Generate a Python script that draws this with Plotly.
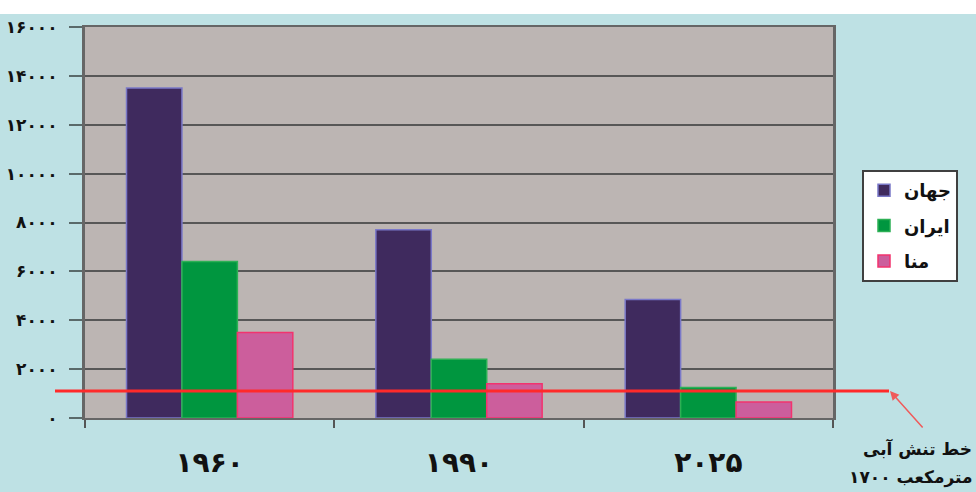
import plotly.graph_objects as go

categories = ["1960", "1990", "2025"]
cat_labels = ["۱۹۶۰", "۱۹۹۰", "۲۰۲۵"]
series_names = ["جهان", "ایران", "منا"]
world = [13500, 7700, 4850]
iran = [6400, 2400, 1250]
mena = [3500, 1400, 650]
y_ticks = [0, 2000, 4000, 6000, 8000, 10000, 12000, 14000, 16000]
y_tick_labels = ["۰", "۲۰۰۰", "۴۰۰۰", "۶۰۰۰", "۸۰۰۰", "۱۰۰۰۰", "۱۲۰۰۰", "۱۴۰۰۰", "۱۶۰۰۰"]
stress_level = 1100
stress_text_1 = "خط تنش آبی"
stress_text_2 = "۱۷۰۰ مترمکعب"

fills = ["#3F2A5E", "#00963F", "#CC5E9C"]
outlines = ["#7A78C8", "#2DB055", "#F2336E"]

FONT = "DejaVu Sans"

fig = go.Figure()
for name, vals, fc, lc in zip(series_names, [world, iran, mena], fills, outlines):
    fig.add_trace(go.Bar(
        x=categories, y=vals, name=name, legendgroup=name,
        marker=dict(color=fc, line=dict(color=lc, width=1.5)),
    ))

W, H = 976, 492
L, R, T, B = 85, 143, 27, 74
pw, ph = W - L - R, H - T - B

def px_x(p):
    return (p - L) / pw

def px_y(p):
    return (H - B - p) / ph

fig.update_layout(
    width=W, height=H,
    margin=dict(l=L, r=R, t=T, b=B, pad=0, autoexpand=False),
    paper_bgcolor="#BEE1E4",
    plot_bgcolor="#BCB5B3",
    barmode="group",
    bargap=0.333,
    bargroupgap=0,
    font=dict(family=FONT, color="#111111"),
    showlegend=True,
    legend=dict(
        x=px_x(862), y=px_y(170), xanchor="left", yanchor="top",
        bgcolor="#FFFFFF", bordercolor="#404040", borderwidth=2,
        font=dict(family=FONT, size=18, weight="bold", color="#111111"),
        traceorder="grouped", tracegroupgap=9,
        itemwidth=30,
    ),
    xaxis=dict(
        tickmode="array", tickvals=categories, ticktext=cat_labels,
        tickson="boundaries", ticks="outside", ticklen=8, tickwidth=1.5,
        tickcolor="#555555",
        showline=True, linecolor="#666666", linewidth=2, mirror=True,
        showgrid=False, automargin=False,
        tickfont=dict(family=FONT, size=28, weight="bold", color="#111111"),
        ticklabelstandoff=18,
    ),
    yaxis=dict(
        range=[0, 16000], tickmode="array", tickvals=y_ticks, ticktext=y_tick_labels,
        ticks="outside", ticklen=13, tickwidth=2, tickcolor="#5A6A6A",
        showline=True, linecolor="#666666", linewidth=3, mirror=True,
        showgrid=True, gridcolor="#575757", gridwidth=2,
        zeroline=False, automargin=False,
        tickfont=dict(family=FONT, size=17, weight="bold", color="#111111"),
        ticklabelstandoff=8,
    ),
)

# white strip at the very top of the picture
fig.add_shape(type="rect", xref="paper", yref="paper",
              x0=px_x(0), x1=px_x(W), y0=px_y(14), y1=px_y(0),
              fillcolor="#FFFFFF", line=dict(width=0), layer="below")

# water stress line
fig.add_shape(type="line", xref="paper", yref="y",
              x0=px_x(55), x1=px_x(889), y0=stress_level, y1=stress_level,
              line=dict(color="#FF2A2A", width=3), layer="above")

fig.add_annotation(x=px_x(890), y=stress_level, xref="paper", yref="y",
                   text="", showarrow=True, ax=34, ay=38,
                   arrowhead=2, arrowsize=1.2, arrowwidth=1.5, arrowcolor="#F05A5A")

fig.add_annotation(x=px_x(974), y=px_y(449), xref="paper", yref="paper",
                   text=stress_text_1, showarrow=False, xanchor="right", yanchor="middle",
                   font=dict(family=FONT, size=17, weight="bold", color="#111111"))
fig.add_annotation(x=px_x(974), y=px_y(477), xref="paper", yref="paper",
                   text=stress_text_2, showarrow=False, xanchor="right", yanchor="middle",
                   font=dict(family=FONT, size=17, weight="bold", color="#111111"))

fig.write_html("out.html")
